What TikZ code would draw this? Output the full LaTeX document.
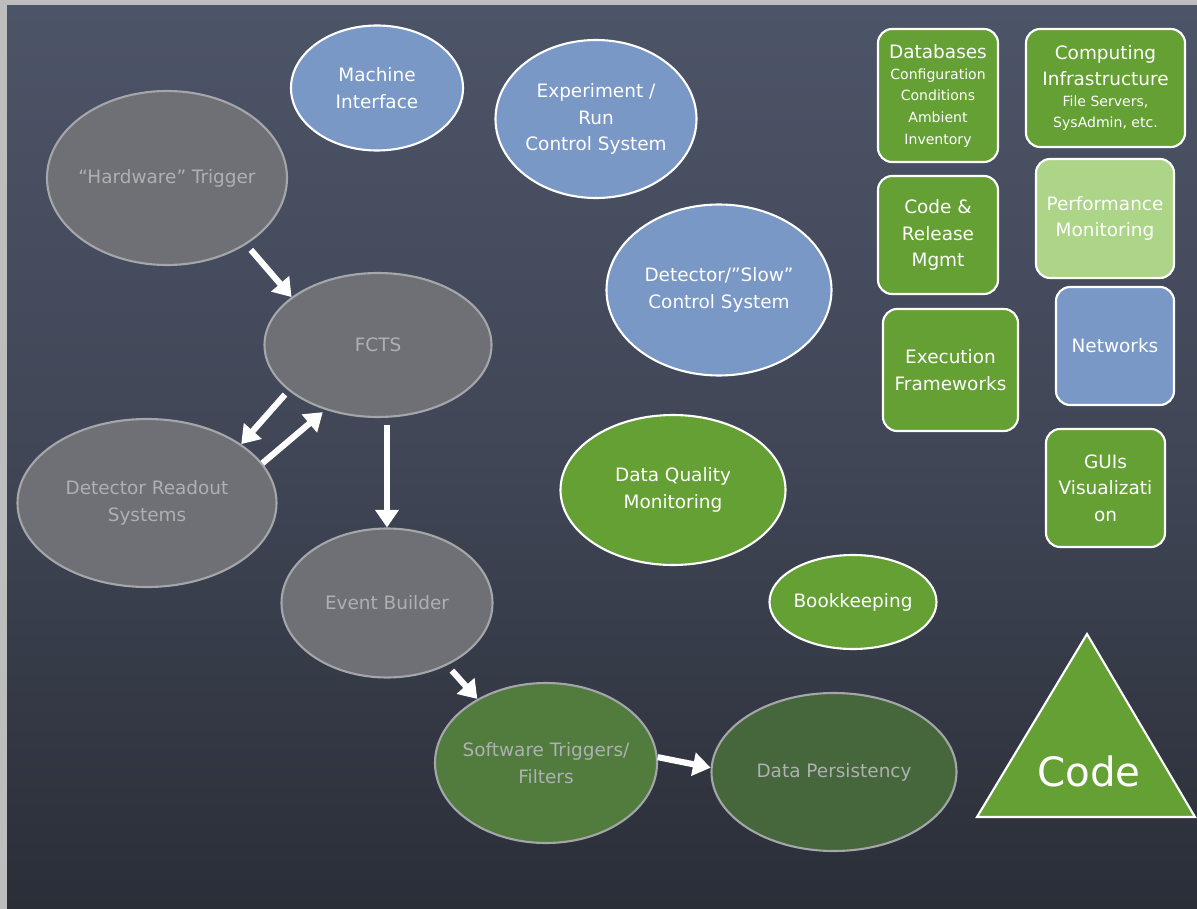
\documentclass[tikz,border=0pt]{standalone}
\usepackage{fontspec}
\setmainfont{DejaVu Sans}
\usetikzlibrary{shapes.geometric,arrows.meta}

\definecolor{frame}{HTML}{BDBDBD}
\definecolor{boardtop}{HTML}{4C5467}
\definecolor{boardmid}{HTML}{404656}
\definecolor{boardlow}{HTML}{2A2E37}
\definecolor{skyblue}{HTML}{7A98C5}
\definecolor{chalkgray}{HTML}{6E7076}
\definecolor{chalkline}{HTML}{A4A6A9}
\definecolor{chalktext}{HTML}{AEB0B3}
\definecolor{leaf}{HTML}{65A035}
\definecolor{leaflight}{HTML}{ACD588}
\definecolor{moss}{HTML}{517C3E}
\definecolor{mossdark}{HTML}{46663C}

\newcommand{\subline}{\fontsize{8}{11}\selectfont}

\tikzset{
  bubble/.style 2 args={ellipse, minimum width=#1*0.02cm, minimum height=#2*0.02cm,
    inner sep=-12pt, align=center, line width=1.2pt},
  bluebub/.style={fill=skyblue, draw=white, text=white},
  greybub/.style={fill=chalkgray, draw=chalkline, text=chalktext},
  greenbub/.style={fill=leaf, draw=white, text=white},
  mossbub/.style={draw=chalkline, text=chalktext},
  tile/.style 2 args={rectangle, rounded corners=8pt, minimum width=#1*0.02cm,
    minimum height=#2*0.02cm, inner sep=0pt, align=center, draw=white,
    line width=1.2pt, text=white},
  arr/.style={-{Triangle[length=10pt,width=13pt]}, white, line width=3.5pt},
}

\begin{document}
\begin{tikzpicture}[x=0.02cm, y=-0.02cm, font=\fontsize{10.5}{15}\selectfont]

% board and frame
\useasboundingbox (0,0) rectangle (1197,909);
\fill[frame] (0,0) rectangle (1197,909);
\shade[top color=boardtop, bottom color=boardlow, middle color=boardmid] (7,6) rectangle (1197,909);

% control systems (blue)
\node[bubble={172}{125}, bluebub] (mi) at (377,88) {Machine\\Interface};
\node[bubble={201}{158}, bluebub] (erc) at (596,119) {Experiment /\\Run\\Control System};
\node[bubble={225}{171}, bluebub] (dcs) at (719,290) {Detector/"Slow"\\Control System};

% data flow chain (grey)
\node[bubble={240}{174}, greybub] (hwt) at (167,178) {``Hardware'' Trigger};
\node[bubble={227}{144}, greybub] (fcts) at (378,345) {FCTS};
\node[bubble={259}{168}, greybub] (drs) at (147,503) {Detector Readout\\Systems};
\node[bubble={211}{149}, greybub] (eb) at (387,603) {Event Builder};
\node[bubble={222}{160}, mossbub, fill=moss] (swt) at (546,763) {Software Triggers/\\Filters};
\node[bubble={245}{158}, mossbub, fill=mossdark] (dp) at (834,772) {Data Persistency};

% offline (green)
\node[bubble={225}{150}, greenbub] (dqm) at (673,490) {Data Quality\\Monitoring};
\node[bubble={167}{94}, greenbub] (bk) at (853,602) {Bookkeeping};

% arrows
\draw[arr, shorten <=4pt] (hwt.320) -- (fcts.151);
\draw[arr, shorten <=3pt] (fcts.207) -- (drs.32);
\draw[arr, shorten >=2pt] (drs.19) -- (fcts.231);
\draw[arr, shorten <=4pt] (fcts.south -| eb.north) -- (eb.north);
\draw[arr, shorten <=4pt] (eb.314) -- (swt.137);
\draw[arr] (swt.3) -- (dp.178);

% software areas (tiles)
\node[tile={120}{133}, fill=leaf] (db) at (938,95.5)
  {Databases\\[-3pt]\subline Configuration\\[-2.7pt]\subline Conditions\\[-2.7pt]\subline Ambient\\[-2.7pt]\subline Inventory};
\node[tile={159}{118}, fill=leaf] (ci) at (1105.5,88)
  {Computing\\Infrastructure\\[-3pt]\subline File Servers,\\[-3.3pt]\subline SysAdmin, etc.};
\node[tile={120}{118}, fill=leaf] (crm) at (938,235) {Code \&\\Release\\Mgmt};
\node[tile={138}{119}, fill=leaflight] (pm) at (1105,218.5) {Performance\\Monitoring};
\node[tile={135}{122}, fill=leaf] (ef) at (950.5,370) {Execution\\Frameworks};
\node[tile={118}{118}, fill=skyblue] (net) at (1115,346) {Networks};
\node[tile={119}{118}, fill=leaf] (gui) at (1105.5,488) {GUIs\\Visualizati\\on};

% code triangle
\draw[fill=leaf, draw=white, line width=1.2pt] (1087,634) -- (1195,817) -- (977,817) -- cycle;
\node[text=white, font=\fontsize{23}{26}\selectfont] (code) at (1089,771) {Code};

\end{tikzpicture}
\end{document}
